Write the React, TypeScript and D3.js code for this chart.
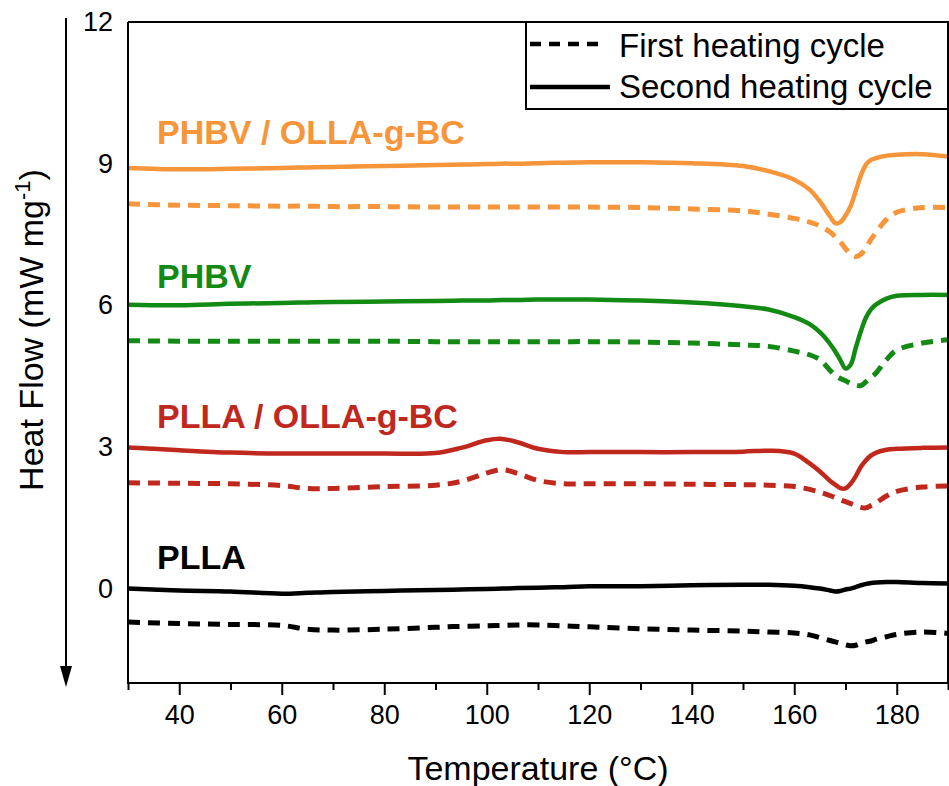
import React, { useEffect, useRef } from 'react';
import * as d3 from 'd3';

// temperature grid (°C)
const temps = [30, 40, 50, 60, 65, 70, 80, 90, 95, 100, 103, 106, 110, 115, 120, 130, 140, 150, 155, 160, 163, 165, 167, 168, 169, 170, 171, 172, 173, 174, 175, 176, 178, 180, 185, 190];

// heat flow (mW mg-1), offset curves
const phbvBcFirst = [8.15, 8.12, 8.11, 8.10, 8.10, 8.09, 8.09, 8.08, 8.08, 8.08, 8.08, 8.08, 8.08, 8.08, 8.08, 8.07, 8.04, 8.00, 7.93, 7.84, 7.76, 7.68, 7.55, 7.45, 7.34, 7.20, 7.08, 7.03, 7.08, 7.22, 7.40, 7.55, 7.82, 7.97, 8.07, 8.07];
const phbvBcSecond = [8.91, 8.88, 8.89, 8.91, 8.92, 8.93, 8.95, 8.97, 8.98, 8.99, 9.00, 9.00, 9.01, 9.02, 9.03, 9.03, 9.01, 8.95, 8.84, 8.66, 8.45, 8.20, 7.88, 7.74, 7.76, 7.90, 8.10, 8.42, 8.75, 8.98, 9.08, 9.12, 9.17, 9.19, 9.20, 9.15];
const phbvFirst = [5.25, 5.24, 5.24, 5.24, 5.24, 5.24, 5.24, 5.23, 5.23, 5.23, 5.23, 5.23, 5.23, 5.23, 5.23, 5.22, 5.20, 5.16, 5.13, 5.03, 4.95, 4.85, 4.62, 4.52, 4.45, 4.40, 4.35, 4.31, 4.30, 4.38, 4.47, 4.57, 4.85, 5.05, 5.20, 5.27];
const phbvSecond = [6.01, 6.00, 6.03, 6.05, 6.06, 6.07, 6.08, 6.09, 6.10, 6.10, 6.11, 6.11, 6.12, 6.12, 6.12, 6.10, 6.06, 5.98, 5.91, 5.75, 5.60, 5.43, 5.18, 5.02, 4.84, 4.66, 4.74, 5.10, 5.45, 5.74, 5.92, 6.02, 6.14, 6.20, 6.22, 6.22];
const pllaBcFirst = [2.24, 2.23, 2.22, 2.18, 2.12, 2.12, 2.16, 2.19, 2.27, 2.45, 2.52, 2.44, 2.29, 2.22, 2.22, 2.22, 2.21, 2.20, 2.19, 2.16, 2.10, 2.04, 1.97, 1.93, 1.88, 1.84, 1.80, 1.76, 1.72, 1.71, 1.76, 1.82, 1.96, 2.06, 2.15, 2.17];
const pllaBcSecond = [2.99, 2.93, 2.88, 2.86, 2.86, 2.86, 2.86, 2.87, 2.98, 3.14, 3.17, 3.10, 2.96, 2.89, 2.89, 2.89, 2.89, 2.90, 2.92, 2.86, 2.65, 2.48, 2.28, 2.20, 2.13, 2.12, 2.22, 2.38, 2.58, 2.72, 2.82, 2.88, 2.94, 2.96, 2.98, 2.99];
const pllaFirst = [-0.71, -0.74, -0.76, -0.78, -0.86, -0.88, -0.86, -0.82, -0.80, -0.79, -0.78, -0.77, -0.77, -0.79, -0.81, -0.85, -0.88, -0.90, -0.92, -0.94, -0.98, -1.04, -1.10, -1.13, -1.16, -1.19, -1.21, -1.20, -1.16, -1.13, -1.11, -1.07, -1.02, -0.97, -0.92, -0.95];
const pllaSecond = [0.00, -0.04, -0.06, -0.11, -0.09, -0.07, -0.05, -0.03, -0.02, -0.01, 0.00, 0.01, 0.02, 0.03, 0.05, 0.05, 0.07, 0.08, 0.08, 0.06, 0.03, 0.00, -0.04, -0.06, -0.05, -0.02, 0.00, 0.03, 0.07, 0.10, 0.12, 0.13, 0.14, 0.14, 0.12, 0.11];

const sampleNames = ['PHBV / OLLA-g-BC', 'PHBV', 'PLLA / OLLA-g-BC', 'PLLA'];
const sampleColors = ['#F7953B', '#138A13', '#C0281E', '#000000'];
const sampleLabelY = [9.42, 6.37, 3.41, 0.42];
const yTicks = [0, 3, 6, 9, 12];
const xMajor = [40, 60, 80, 100, 120, 140, 160, 180];
const xMinor = [30, 50, 70, 90, 110, 130, 150, 170, 190];
const legendNames = ['First heating cycle', 'Second heating cycle'];

const FONT = '"Liberation Sans", Arial, sans-serif';

export default function App() {
    const ref = useRef<SVGSVGElement>(null);

    useEffect(() => {
        document.body.style.margin = '0';
        const svg = d3.select(ref.current);
        svg.selectAll('*').remove();

        const left = 128, right = 948, top = 22, bottom = 683;

        const x = d3.scaleLinear().domain([30, 190]).range([left, right]);
        const y = d3.scaleLinear().domain([-2, 12]).range([bottom, top]);

        // clip
        svg.append('clipPath').attr('id', 'plotClip')
            .append('rect')
            .attr('x', left).attr('y', top)
            .attr('width', right - left).attr('height', bottom - top);

        const line = d3.line<number>()
            .x((d, i) => x(temps[i]))
            .y(d => y(d))
            .curve(d3.curveCatmullRom.alpha(0.5));

        const series = [
            { values: phbvBcFirst, color: sampleColors[0], dashed: true },
            { values: phbvBcSecond, color: sampleColors[0], dashed: false },
            { values: phbvFirst, color: sampleColors[1], dashed: true },
            { values: phbvSecond, color: sampleColors[1], dashed: false },
            { values: pllaBcFirst, color: sampleColors[2], dashed: true },
            { values: pllaBcSecond, color: sampleColors[2], dashed: false },
            { values: pllaFirst, color: sampleColors[3], dashed: true },
            { values: pllaSecond, color: sampleColors[3], dashed: false },
        ];

        const plot = svg.append('g').attr('clip-path', 'url(#plotClip)');
        plot.selectAll('.curve')
            .data(series)
            .enter()
            .append('path')
            .attr('class', 'curve')
            .attr('d', d => line(d.values))
            .attr('fill', 'none')
            .attr('stroke', d => d.color)
            .attr('stroke-width', d => d.dashed ? 5 : 4.5)
            .attr('stroke-dasharray', d => d.dashed ? '12,8' : null);

        // sample labels
        svg.selectAll('.sample')
            .data(sampleNames)
            .enter()
            .append('text')
            .attr('class', 'sample')
            .attr('x', 157)
            .attr('y', (d, i) => y(sampleLabelY[i]))
            .attr('fill', (d, i) => sampleColors[i])
            .attr('font-family', FONT)
            .attr('font-weight', 'bold')
            .attr('font-size', 34)
            .text(d => d);

        // frame
        svg.append('path')
            .attr('d', `M${left},${top}V${bottom}H${right}V${top}H${left}`)
            .attr('fill', 'none')
            .attr('stroke', '#000')
            .attr('stroke-width', 2);

        // x axis
        const xAxis = svg.append('g').attr('transform', `translate(0,${bottom})`);
        xAxis.call(d3.axisBottom(x).tickValues(xMajor).tickSize(12).tickFormat(d3.format('d')));
        xAxis.select('.domain').remove();
        xAxis.selectAll('line').attr('stroke-width', 2);
        xAxis.selectAll('text')
            .attr('font-family', FONT)
            .attr('font-size', 27)
            .attr('fill', '#000')
            .attr('dy', '0.95em');
        const xMinorAxis = svg.append('g').attr('transform', `translate(0,${bottom})`);
        xMinorAxis.call(d3.axisBottom(x).tickValues(xMinor).tickSize(7).tickFormat(() => ''));
        xMinorAxis.select('.domain').remove();
        xMinorAxis.selectAll('line').attr('stroke-width', 2);

        // y axis labels (no tick marks)
        const yAxis = svg.append('g').attr('transform', `translate(${left},0)`);
        yAxis.call(d3.axisLeft(y).tickValues(yTicks).tickSize(0).tickPadding(15));
        yAxis.select('.domain').remove();
        yAxis.selectAll('text')
            .attr('font-family', FONT)
            .attr('font-size', 27)
            .attr('fill', '#000');

        // axis titles
        svg.append('text')
            .attr('x', (left + right) / 2)
            .attr('y', 780)
            .attr('text-anchor', 'middle')
            .attr('font-family', FONT)
            .attr('font-size', 34)
            .text('Temperature (°C)');

        const yTitle = svg.append('text')
            .attr('transform', 'translate(43,330) rotate(-90)')
            .attr('text-anchor', 'middle')
            .attr('font-family', FONT)
            .attr('font-size', 34);
        yTitle.append('tspan').text('Heat Flow (mW mg');
        yTitle.append('tspan').attr('font-size', 22).attr('dy', -13).text('-1');
        yTitle.append('tspan').attr('dy', 13).text(')');

        // endo arrow
        svg.append('line')
            .attr('x1', 66).attr('x2', 66)
            .attr('y1', 18).attr('y2', 672)
            .attr('stroke', '#000')
            .attr('stroke-width', 2);
        svg.append('path')
            .attr('d', 'M60,666L72,666L66,687Z')
            .attr('fill', '#000');

        // legend
        const lg = svg.append('g');
        lg.append('rect')
            .attr('x', 526).attr('y', top)
            .attr('width', right - 526).attr('height', 87)
            .attr('fill', '#fff')
            .attr('stroke', '#000')
            .attr('stroke-width', 2);
        lg.selectAll('.lgLine')
            .data(legendNames)
            .enter()
            .append('line')
            .attr('class', 'lgLine')
            .attr('x1', 530).attr('x2', (d, i) => i === 0 ? 604 : 610)
            .attr('y1', (d, i) => 44 + i * 43)
            .attr('y2', (d, i) => 44 + i * 43)
            .attr('stroke', '#000')
            .attr('stroke-width', 4.5)
            .attr('stroke-dasharray', (d, i) => i === 0 ? '11,8' : null);
        lg.selectAll('.lgText')
            .data(legendNames)
            .enter()
            .append('text')
            .attr('class', 'lgText')
            .attr('x', 619)
            .attr('y', (d, i) => 57 + i * 41)
            .attr('font-family', FONT)
            .attr('font-size', 33)
            .text(d => d);
    }, []);

    return (
        <svg ref={ref} width={949} height={786} style={{ display: 'block', background: '#fff' }} />
    );
}
